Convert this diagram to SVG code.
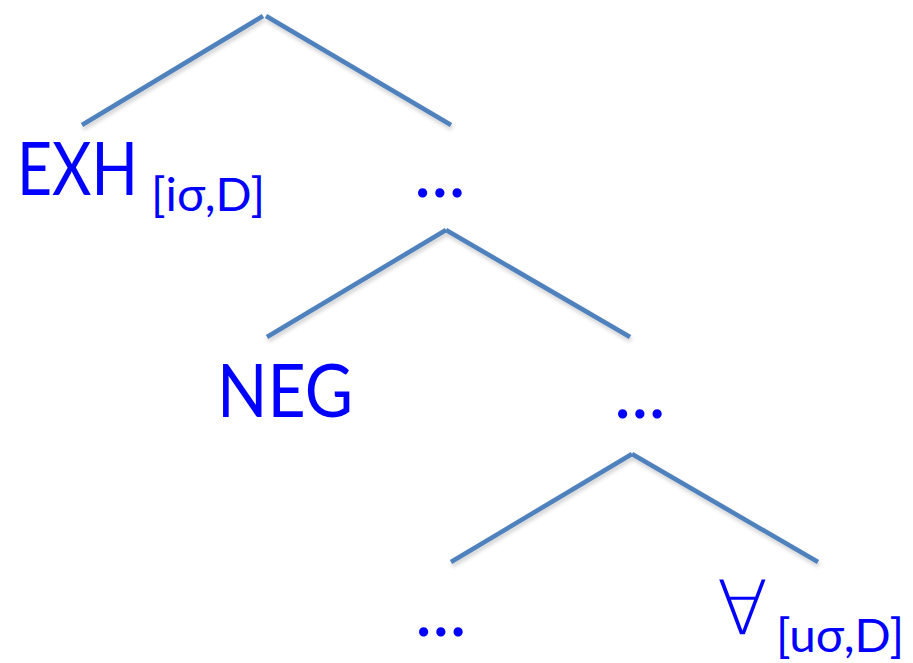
<svg xmlns="http://www.w3.org/2000/svg" width="913" height="663" viewBox="0 0 913 663">
<defs>
<filter id="sh" x="-10%" y="-10%" width="120%" height="130%">
<feGaussianBlur in="SourceAlpha" stdDeviation="2"/>
<feOffset dx="1" dy="3"/>
<feComponentTransfer><feFuncA type="linear" slope="0.2"/></feComponentTransfer>
<feMerge><feMergeNode/><feMergeNode in="SourceGraphic"/></feMerge>
</filter>
</defs>
<style>
.e{stroke:#4f81bd;stroke-width:4.6;fill:none;filter:url(#sh)}
.t{font-family:Lato,"Open Sans",sans-serif;fill:#0000ff}
.b{font-size:73px}
.s{font-size:46px}
.m{font-family:"DejaVu Sans",sans-serif;font-weight:200;font-size:75px;fill:#0000ff}
</style>
<rect width="913" height="663" fill="#fff"/>
<g id="connectors">
<line class="e" x1="82" y1="125" x2="263" y2="16"/>
<line class="e" x1="266" y1="16" x2="451" y2="125"/>
<line class="e" x1="267" y1="337" x2="446" y2="230"/>
<line class="e" x1="446" y1="230" x2="630" y2="337"/>
<line class="e" x1="451" y1="562" x2="632" y2="454"/>
<line class="e" x1="632" y1="454" x2="818" y2="562"/>
</g>
<g id="exh">
<text class="t b" x="17" y="195" textLength="121" lengthAdjust="spacingAndGlyphs">EXH</text>
<text class="t s" x="151" y="211" textLength="114" lengthAdjust="spacingAndGlyphs">[iσ,D]</text>
</g>
<g id="dots1"><text class="t b" x="414" y="197">...</text></g>
<g id="neg"><text class="t b" x="217" y="417" textLength="136" lengthAdjust="spacingAndGlyphs">NEG</text></g>
<g id="dots2"><text class="t b" x="614" y="418">...</text></g>
<g id="dots3"><text class="t b" x="415" y="636">...</text></g>
<g id="forall">
<text class="m" x="717" y="634" textLength="51" lengthAdjust="spacingAndGlyphs">∀</text>
<text class="t s" x="776" y="652" textLength="128" lengthAdjust="spacingAndGlyphs">[uσ,D]</text>
</g>
</svg>
